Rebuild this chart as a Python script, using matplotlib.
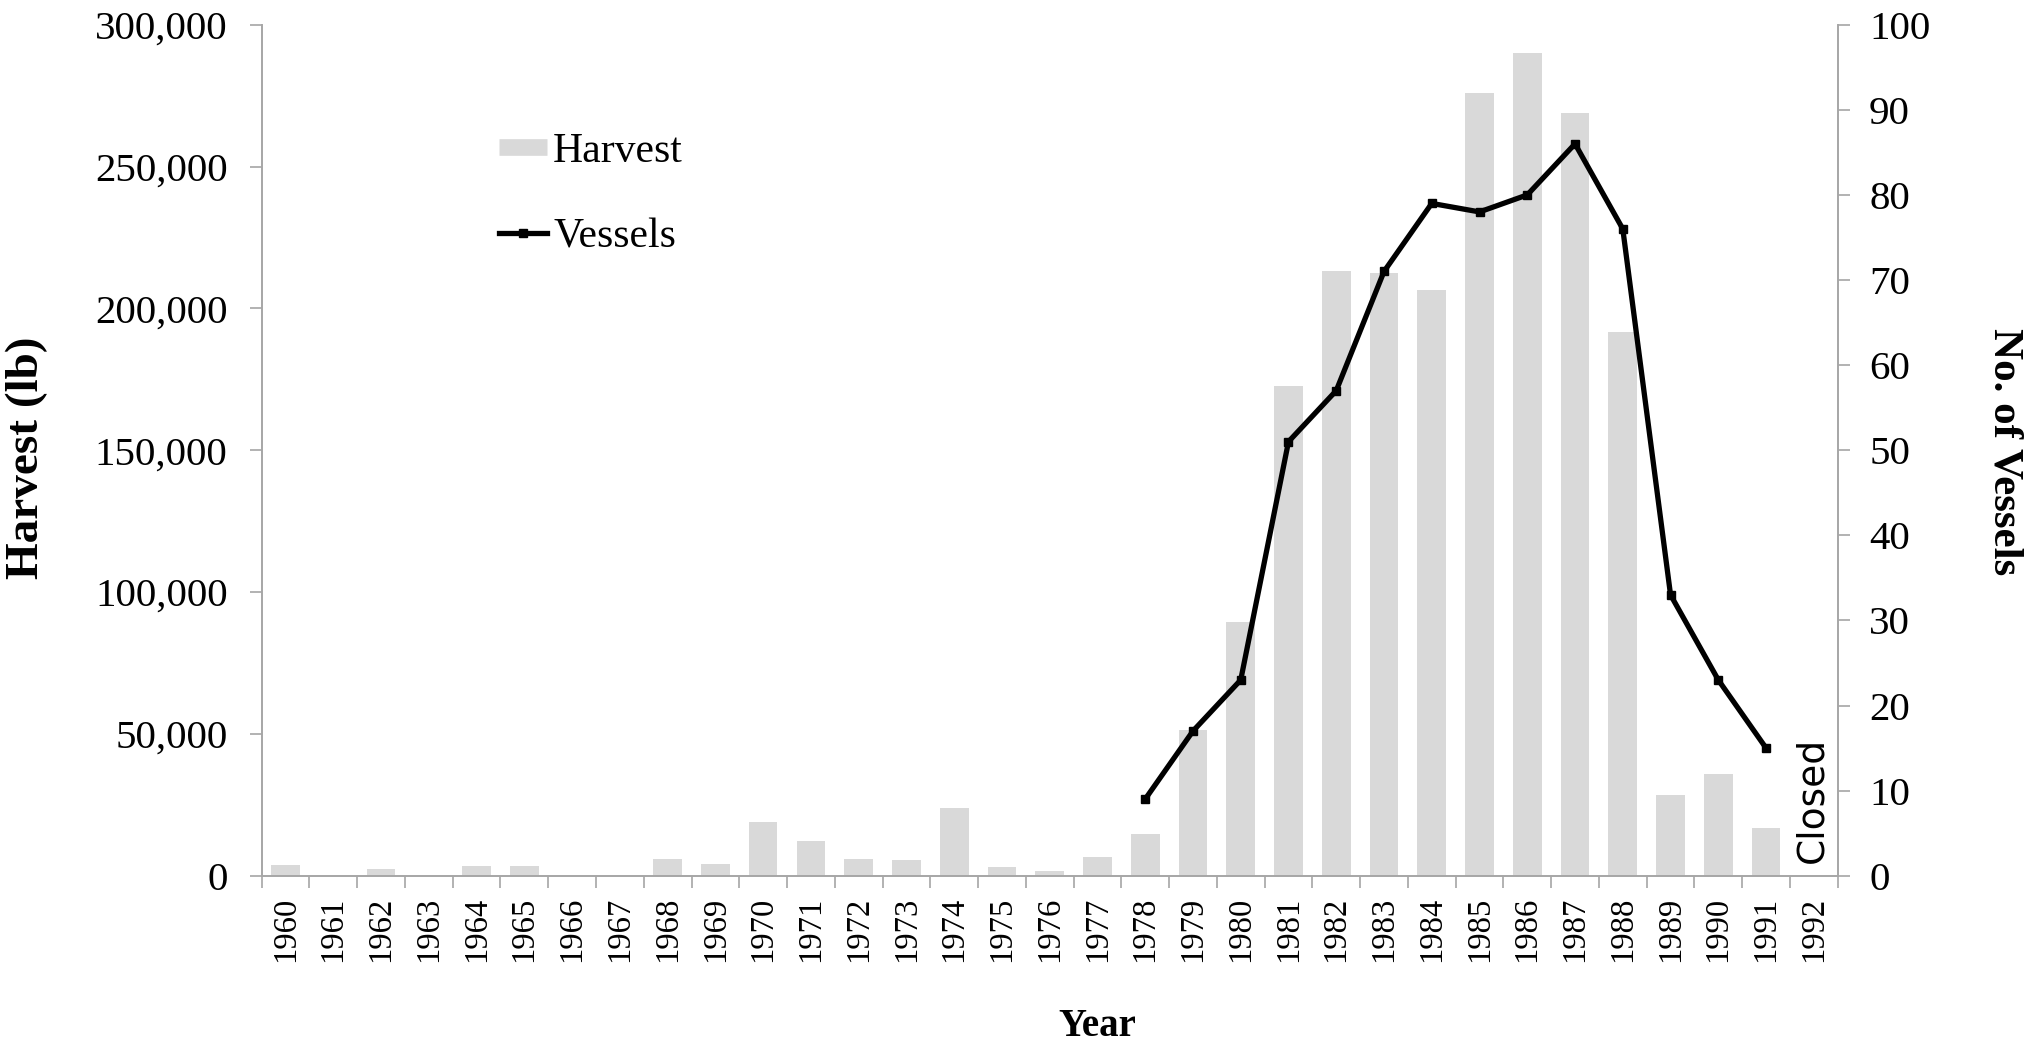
import matplotlib
matplotlib.use("Agg")
import matplotlib.pyplot as plt
from matplotlib.ticker import FuncFormatter, FixedLocator
from matplotlib.lines import Line2D

years = list(range(1960, 1993))
harvest = [3900, 0, 2500, 0, 3300, 3300, 0, 0, 6000, 4100,
           18900, 12200, 6000, 5500, 24000, 3200, 1500, 6500, 14700, 51400,
           89300, 172600, 213100, 212600, 206500, 276000, 289900, 268900, 191600, 28400,
           35900, 16900, 0]
vessel_years = list(range(1978, 1992))
vessels = [9, 17, 23, 51, 57, 71, 79, 78, 80, 86, 76, 33, 23, 15]
closed_label = "Closed"
closed_year = 1992

plt.rcParams['font.family'] = ['Liberation Serif', 'DejaVu Serif']

W, H = 2041, 1042
fig = plt.figure(figsize=(W / 100, H / 100), dpi=100)
left, right, top, bottom = 261.7, 1837.7, 24.7, 875.7
ax = fig.add_axes([left / W, 1 - bottom / H, (right - left) / W, (bottom - top) / H])
ax2 = ax.twinx()

idx = list(range(len(years)))
ax.bar(idx, harvest, width=0.6, color='#d9d9d9', zorder=2)
vidx = [years.index(y) for y in vessel_years]
ax2.plot(vidx, vessels, color='black', lw=3.8, marker='s', markersize=6,
         markerfacecolor='black', markeredgecolor='black', zorder=3)

ax.set_xlim(-0.5, len(years) - 0.5)
ax.set_ylim(0, 300000)
ax2.set_ylim(0, 100)
ax.set_yticks(range(0, 300001, 50000))
ax.yaxis.set_major_formatter(FuncFormatter(lambda v, p: f"{v:,.0f}"))
ax2.set_yticks(range(0, 101, 10))

ax.set_xticks(idx)
ax.set_xticklabels([str(y) for y in years], rotation=90, fontsize=23.5)
ax.xaxis.set_minor_locator(FixedLocator([i - 0.5 for i in range(len(years) + 1)]))
ax.tick_params(axis='x', which='major', length=0, pad=15)
ax.tick_params(axis='x', which='minor', length=8.6, width=1.2, color='#a6a6a6', direction='out')
ax.tick_params(axis='y', length=8.6, width=1.2, color='#a6a6a6', labelsize=29.5, pad=16)
ax2.tick_params(axis='y', length=8.6, width=1.2, color='#a6a6a6', labelsize=29.5, pad=14)

spine_c = '#a6a6a6'
for a in (ax, ax2):
    a.spines['top'].set_visible(False)
    for s in ('left', 'right', 'bottom'):
        a.spines[s].set_color(spine_c)
        a.spines[s].set_linewidth(1.4)
ax.spines['right'].set_visible(False)
ax2.spines['left'].set_visible(False)
ax2.spines['bottom'].set_visible(False)

ci = years.index(closed_year)
ax2.text(ci - 0.03, 1.5, closed_label, rotation=90, ha='center', va='bottom',
         fontsize=27, family=['DejaVu Sans'], color='black')

fig.text(27 / W, 1 - 458 / H, "Harvest (lb)", rotation=90, ha='center', va='center',
         fontsize=34, fontweight='bold')
fig.text(2005 / W, 1 - 452 / H, "No. of Vessels", rotation=-90, ha='center', va='center',
         fontsize=31, fontweight='bold')
fig.text(1097 / W, 1 - 1027 / H, "Year", ha='center', va='center',
         fontsize=28, fontweight='bold')

handles = [Line2D([0], [0], color='#d9d9d9', lw=12, solid_capstyle='butt'),
           Line2D([0], [0], color='black', lw=3.8, marker='s', markersize=6)]
fig.legend(handles, ["Harvest", "Vessels"], loc='upper left',
           bbox_to_anchor=(499 / W, 1 - 132 / H), frameon=False, fontsize=30,
           handlelength=1.15, handletextpad=0.15, labelspacing=1.15, borderpad=0,
           borderaxespad=0)

fig.savefig("out.png", dpi=100)
